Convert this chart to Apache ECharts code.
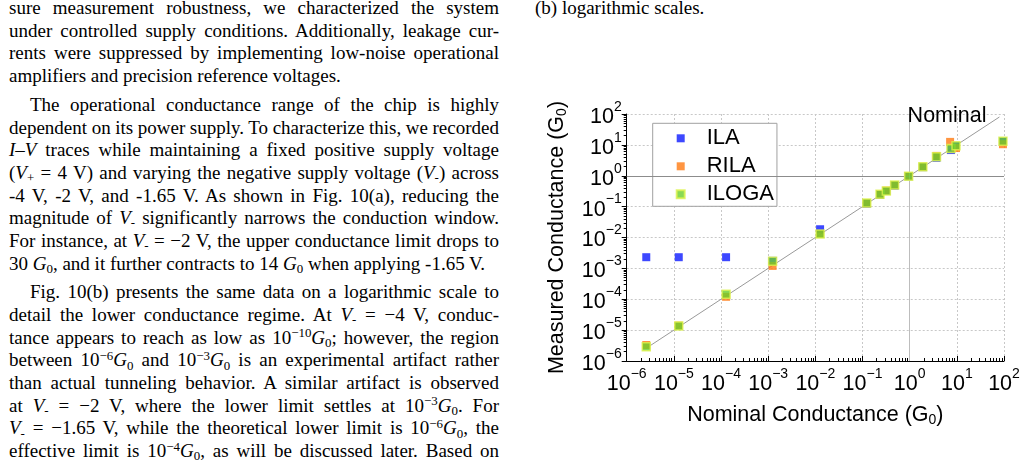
<!DOCTYPE html>
<html>
<head>
<meta charset="utf-8">
<script src="https://cdn.jsdelivr.net/npm/echarts@6/dist/echarts.min.js"></script>
<style>
html,body{margin:0;padding:0;background:#fff;width:1025px;height:463px;overflow:hidden;}
#text{position:absolute;left:9px;top:-2.8px;width:490px;font-family:"Liberation Serif","Times New Roman",serif;font-size:19px;line-height:22.65px;color:#000;}
#cap{position:absolute;left:535px;top:-2.8px;font-family:"Liberation Serif","Times New Roman",serif;font-size:19px;line-height:22.65px;color:#000;white-space:nowrap;}
.ln{white-space:nowrap;height:22.65px;}
.ln .in{display:inline-block;white-space:nowrap;}
.ind{padding-left:21px;}
.gap{margin-top:6.3px;}
sup{font-size:68%;line-height:0;vertical-align:baseline;position:relative;top:-0.5em;}
sub{font-size:68%;line-height:0;vertical-align:baseline;position:relative;top:0.25em;}
#chart{position:absolute;left:520px;top:0;width:505px;height:463px;}
</style>
</head>
<body>
<div id="text">
<div class="ln j"><span class="in">sure measurement robustness, we characterized the system</span></div>
<div class="ln j"><span class="in">under controlled supply conditions. Additionally, leakage cur-</span></div>
<div class="ln j"><span class="in">rents were suppressed by implementing low-noise operational</span></div>
<div class="ln"><span class="in">amplifiers and precision reference voltages.</span></div>
<div class="ln j ind gap"><span class="in">The operational conductance range of the chip is highly</span></div>
<div class="ln j"><span class="in">dependent on its power supply. To characterize this, we recorded</span></div>
<div class="ln j"><span class="in"><i>I</i>–<i>V</i> traces while maintaining a fixed positive supply voltage</span></div>
<div class="ln j"><span class="in">(<i>V</i><sub>+</sub> = 4 V) and varying the negative supply voltage (<i>V</i><sub>-</sub>) across</span></div>
<div class="ln j"><span class="in">-4 V, -2 V, and -1.65 V. As shown in Fig. 10(a), reducing the</span></div>
<div class="ln j"><span class="in">magnitude of <i>V</i><sub>-</sub> significantly narrows the conduction window.</span></div>
<div class="ln j"><span class="in">For instance, at <i>V</i><sub>-</sub> = −2 V, the upper conductance limit drops to</span></div>
<div class="ln"><span class="in">30 <i>G</i><sub>0</sub>, and it further contracts to 14 <i>G</i><sub>0</sub> when applying -1.65 V.</span></div>
<div class="ln j ind gap"><span class="in">Fig. 10(b) presents the same data on a logarithmic scale to</span></div>
<div class="ln j"><span class="in">detail the lower conductance regime. At <i>V</i><sub>-</sub> = −4 V, conduc-</span></div>
<div class="ln j"><span class="in">tance appears to reach as low as 10<sup>−10</sup><i>G</i><sub>0</sub>; however, the region</span></div>
<div class="ln j"><span class="in">between 10<sup>−6</sup><i>G</i><sub>0</sub> and 10<sup>−3</sup><i>G</i><sub>0</sub> is an experimental artifact rather</span></div>
<div class="ln j"><span class="in">than actual tunneling behavior. A similar artifact is observed</span></div>
<div class="ln j"><span class="in">at <i>V</i><sub>-</sub> = −2 V, where the lower limit settles at 10<sup>−3</sup><i>G</i><sub>0</sub>. For</span></div>
<div class="ln j"><span class="in"><i>V</i><sub>-</sub> = −1.65 V, while the theoretical lower limit is 10<sup>−6</sup><i>G</i><sub>0</sub>, the</span></div>
<div class="ln j"><span class="in">effective limit is 10<sup>−4</sup><i>G</i><sub>0</sub>, as will be discussed later. Based on</span></div>
</div>
<div id="cap">(b) logarithmic scales.</div>
<div id="chart"></div>
<script>
// ---- data ----
const seriesNames = ['ILA', 'RILA', 'ILOGA'];
const ilaPoints = [
  [2.6e-6, 2.3e-3], [1.27e-5, 2.3e-3], [1.28e-4, 2.3e-3], [1.24e-3, 1.75e-3],
  [1.26e-2, 1.85e-2], [0.123, 0.125], [0.235, 0.24], [0.32, 0.32], [0.48, 0.48],
  [0.95, 0.96], [1.9, 1.9], [3.7, 3.8], [7.5, 6.8], [9.6, 9.3], [95, 13]
];
const rilaPoints = [
  [2.6e-6, 3.3e-6], [1.27e-5, 1.4e-5], [1.28e-4, 1.2e-4], [1.24e-3, 1.2e-3],
  [1.26e-2, 1.3e-2], [0.123, 0.13], [0.235, 0.25], [0.32, 0.33], [0.48, 0.5],
  [0.95, 0.98], [1.9, 1.95], [3.7, 4.4], [7.2, 12.5], [9.6, 7.9], [95, 10.5]
];
const ilogaPoints = [
  [2.6e-6, 2.9e-6], [1.27e-5, 1.36e-5], [1.28e-4, 1.45e-4], [1.24e-3, 1.7e-3],
  [1.26e-2, 1.3e-2], [0.123, 0.13], [0.235, 0.25], [0.32, 0.32], [0.48, 0.5],
  [0.95, 0.97], [1.9, 1.95], [3.7, 4.1], [7.5, 7.6], [9.6, 9.3], [95, 13.2]
];
const nominalLine = [[2.6e-6, 2.6e-6], [80, 80]];
const nominalLabelAt = [6.2, 85];
const axisMin = 1e-6;
const axisMax = 100;
const xAxisTitle = 'Nominal Conductance (G{sub|0})';
const yAxisTitle = 'Measured Conductance (G{sub|0})';

// ---- justify text lines ----
document.querySelectorAll('#text .ln.j').forEach(function (ln) {
  const inner = ln.querySelector('.in');
  const pad = parseFloat(getComputedStyle(ln).paddingLeft) || 0;
  const target = 490 - pad;
  const natural = inner.getBoundingClientRect().width;
  const spaces = (inner.textContent.match(/ /g) || []).length;
  if (spaces > 0) inner.style.wordSpacing = ((target - natural) / spaces) + 'px';
});

// ---- chart ----
const FONT = '"Liberation Sans", Arial, sans-serif';
function powLabel(v) {
  const e = Math.round(Math.log10(v));
  return '{b|10}{s|' + (e < 0 ? '\u2212' + (-e) : e) + '}';
}
const labelRich = {
  b: { fontSize: 21.5, lineHeight: 28, verticalAlign: 'bottom', fontFamily: FONT, color: '#000' },
  s: { fontSize: 14, lineHeight: 14, verticalAlign: 'top', fontFamily: FONT, color: '#000' }
};
const nameStyle = {
  fontSize: 21.5, fontFamily: FONT, color: '#000', lineHeight: 24,
  rich: {
    sub: { fontSize: 14, lineHeight: 14, verticalAlign: 'bottom', fontFamily: FONT, color: '#000' }
  }
};
function makeAxis(isX) {
  return {
    type: 'log', logBase: 10, min: axisMin, max: axisMax, splitNumber: 8,
    name: isX ? xAxisTitle : yAxisTitle,
    nameLocation: 'middle', nameGap: isX ? 42 : 58,
    nameTextStyle: nameStyle,
    axisLine: { show: true, onZero: false, lineStyle: { color: '#000', width: 1 } },
    axisTick: { show: true, inside: isX, length: 5, lineStyle: { color: '#000', width: 1 } },
    minorTick: { show: true, splitNumber: 9, length: 3, lineStyle: { color: '#000', width: 1 } },
    splitLine: { show: true, lineStyle: { color: '#c8c8c8', width: 1, type: [2, 2] } },
    minorSplitLine: { show: false },
    axisLabel: { show: true, margin: isX ? 6 : 5, formatter: powLabel, rich: labelRich, hideOverlap: false }
  };
}
const chart = echarts.init(document.getElementById('chart'), null, { renderer: 'canvas' });
chart.setOption({
  animation: false,
  backgroundColor: 'transparent',
  textStyle: { fontFamily: FONT },
  grid: { left: 106.7, top: 114, width: 377.3, height: 247 },
  xAxis: makeAxis(true),
  yAxis: makeAxis(false),
  legend: {
    data: seriesNames,
    orient: 'vertical', left: 132.7, top: 123.3,
    backgroundColor: '#fff', borderColor: '#a0a0a0', borderWidth: 1, borderRadius: 0,
    padding: [4, 3, 1, 23], itemWidth: 8, itemHeight: 8, itemGap: 6,
    selectedMode: false,
    textStyle: { fontSize: 22, fontFamily: FONT, color: '#000', lineHeight: 22, padding: [0, 0, 0, 17] }
  },
  series: [
    {
      name: 'Nominal', type: 'line', data: nominalLine, showSymbol: false, symbol: 'none',
      lineStyle: { color: '#999', width: 1 }, z: 1, silent: true,
      markLine: {
        silent: true, symbol: 'none', label: { show: false },
        data: [
          { yAxis: 1, lineStyle: { color: '#8c8c8c', type: 'solid', width: 1 } },
          { xAxis: 1, lineStyle: { color: '#bdbdbd', type: 'solid', width: 1 } }
        ]
      },
      markPoint: {
        silent: true, symbol: 'circle', symbolSize: 0,
        data: [{ coord: nominalLabelAt }],
        label: { show: true, position: 'inside', formatter: 'Nominal', fontSize: 21.5, fontFamily: FONT, color: '#000' }
      }
    },
    {
      name: 'ILA', type: 'scatter', data: ilaPoints, symbol: 'rect', symbolSize: 8, z: 3,
      itemStyle: { color: '#0d1aff' }
    },
    {
      name: 'RILA', type: 'scatter', data: rilaPoints, symbol: 'rect', symbolSize: 8, z: 4,
      itemStyle: { color: '#ff7a12' }
    },
    {
      name: 'ILOGA', type: 'scatter', data: ilogaPoints, symbol: 'rect', symbolSize: 8, z: 5,
      itemStyle: { color: '#6ccf2c', borderColor: '#dcf24c', borderWidth: 1.5 }
    }
  ]
});
</script>
</body>
</html>
